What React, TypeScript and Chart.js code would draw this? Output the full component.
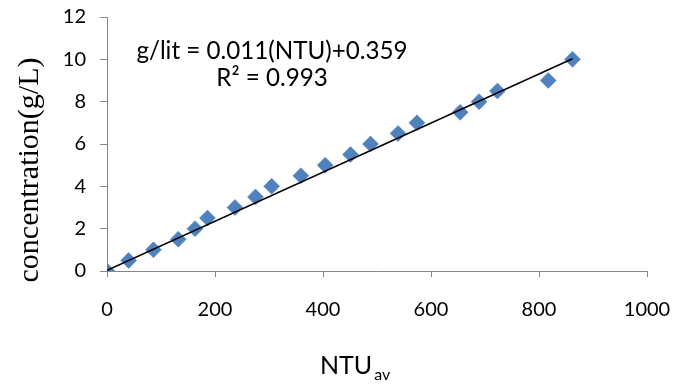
import React, { useEffect, useRef } from 'react';
import { Chart, registerables } from 'chart.js';

Chart.register(...registerables);

// Data
const ntuValues = [0, 40, 86, 132, 163, 186, 237, 275, 305, 359, 404, 451, 488, 539, 574, 654, 689, 723, 817, 862];
const concValues = [0, 0.5, 1, 1.5, 2, 2.5, 3, 3.5, 4, 4.5, 5, 5.5, 6, 6.5, 7, 7.5, 8, 8.5, 9, 10];
const trendX = [0, 862];
const trendY = [0.03, 10.03];
const xTickValues = [0, 200, 400, 600, 800, 1000];
const yTickValues = [0, 2, 4, 6, 8, 10, 12];
const equationLines = ['g/lit = 0.011(NTU)+0.359', 'R² = 0.993'];
const xTitleMain = 'NTU';
const xTitleSub = 'av';
const yTitle = 'concentration(g/L)';

const W = 673;
const H = 384;
const SANS = 'Lato, "Open Sans", sans-serif';

const textPlugin = {
  id: 'annotText',
  afterDraw(chart: any) {
    const ctx = chart.ctx as CanvasRenderingContext2D;
    ctx.save();
    ctx.fillStyle = '#000';
    // equation
    ctx.font = `24.2px ${SANS}`;
    ctx.textAlign = 'center';
    ctx.textBaseline = 'alphabetic';
    ctx.fillText(equationLines[0], 272, 59);
    ctx.fillText(equationLines[1], 272, 86);
    // x title with subscript
    ctx.textAlign = 'left';
    ctx.font = `25px ${SANS}`;
    const w = ctx.measureText(xTitleMain).width;
    ctx.fillText(xTitleMain, 320, 374);
    ctx.font = `16px ${SANS}`;
    ctx.fillText(xTitleSub, 320 + w + 2, 380);
    // y title
    ctx.translate(30, 170);
    ctx.rotate(-Math.PI / 2);
    ctx.font = '30px "Liberation Serif", "Times New Roman", serif';
    ctx.textAlign = 'center';
    ctx.textBaseline = 'middle';
    ctx.fillText(yTitle, 0, 0);
    ctx.restore();
  },
};

export default function App() {
  const canvasRef = useRef<HTMLCanvasElement | null>(null);

  useEffect(() => {
    if (!canvasRef.current) return;
    const axisColor = '#868686';
    const chart = new Chart(canvasRef.current, {
      type: 'scatter',
      data: {
        datasets: [
          {
            type: 'line',
            label: 'trend',
            data: trendX.map((x, i) => ({ x, y: trendY[i] })),
            borderColor: '#000',
            borderWidth: 1.5,
            pointRadius: 0,
            fill: false,
            order: 0,
          } as any,
          {
            label: 'concentration',
            data: ntuValues.map((x, i) => ({ x, y: concValues[i] })),
            pointStyle: 'rectRot',
            pointRadius: 8,
            backgroundColor: '#4F81BD',
            borderColor: '#4F81BD',
            borderWidth: 0.5,
            order: 1,
          },
        ],
      },
      options: {
        responsive: false,
        animation: false,
        layout: { padding: { top: 17, right: 26, left: 0, bottom: 0 } },
        plugins: {
          legend: { display: false },
          tooltip: { enabled: false },
          title: { display: false },
        },
        scales: {
          x: {
            type: 'linear',
            min: 0,
            max: 1000,
            afterBuildTicks: (s: any) => {
              s.ticks = xTickValues.map((v) => ({ value: v }));
            },
            afterFit: (s: any) => {
              s.height = 113;
              s.paddingLeft = 0;
              s.paddingRight = 0;
            },
            ticks: {
              font: { family: SANS, size: 20 },
              color: '#000',
              padding: 21,
              maxRotation: 0,
              callback: (v: any) => String(v),
            },
            grid: { drawOnChartArea: false, drawTicks: true, tickLength: 6, color: axisColor, lineWidth: 1 },
            border: { color: axisColor, width: 1 },
          },
          y: {
            type: 'linear',
            min: 0,
            max: 12,
            afterBuildTicks: (s: any) => {
              s.ticks = yTickValues.map((v) => ({ value: v }));
            },
            afterFit: (s: any) => {
              s.width = 107;
              s.paddingTop = 0;
              s.paddingBottom = 0;
            },
            ticks: {
              font: { family: SANS, size: 20 },
              color: '#000',
              padding: 14,
              callback: (v: any) => String(v),
            },
            grid: { drawOnChartArea: false, drawTicks: true, tickLength: 7, color: axisColor, lineWidth: 1 },
            border: { color: axisColor, width: 1 },
          },
        },
      },
      plugins: [textPlugin],
    });
    return () => chart.destroy();
  }, []);

  return (
    <div style={{ position: 'fixed', left: 0, top: 0, width: W, height: H, background: '#fff' }}>
      <canvas ref={canvasRef} width={W} height={H} style={{ width: W, height: H, display: 'block' }} />
    </div>
  );
}
